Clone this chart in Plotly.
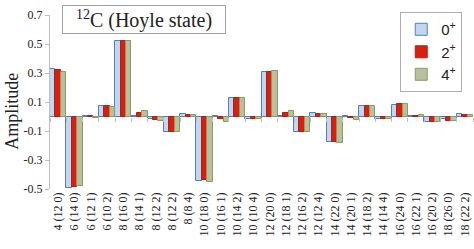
import plotly.graph_objects as go

categories = ["4 (12 0)", "6 (14 0)", "6 (12 1)", "6 (10 2)", "8 (16 0)", "8 (14 1)",
              "8 (12 2)", "8 (12 2)", "8 (8 4)", "10 (18 0)", "10 (16 1)", "10 (14 2)",
              "10 (10 4)", "12 (20 0)", "12 (18 1)", "12 (16 2)", "12 (12 4)", "14 (22 0)",
              "14 (20 1)", "14 (18 2)", "14 (14 4)", "16 (24 0)", "16 (22 1)", "16 (20 2)",
              "18 (26 0)", "18 (22 2)"]
amp_0 = [0.328, -0.49, 0.003, 0.072, 0.52, 0.003, -0.02, -0.11, 0.015, -0.443, 0.003, 0.125, -0.02,
         0.305, 0.003, -0.105, 0.026, -0.174, 0.003, 0.072, -0.02, 0.08, 0.003, -0.035, -0.02, 0.015]
amp_2 = [0.32, -0.488, 0.003, 0.07, 0.52, 0.022, -0.022, -0.11, 0.01, -0.44, -0.02, 0.125, -0.015,
         0.305, 0.022, -0.105, 0.02, -0.175, -0.012, 0.072, -0.015, 0.085, 0.003, -0.035, -0.03, 0.01]
amp_4 = [0.31, -0.48, -0.01, 0.065, 0.52, 0.035, -0.03, -0.105, 0.01, -0.45, -0.04, 0.125, -0.015,
         0.316, 0.038, -0.105, 0.018, -0.185, -0.024, 0.075, -0.02, 0.085, 0.012, -0.04, -0.03, 0.01]
series_names = ["0<sup>+</sup>", "2<sup>+</sup>", "4<sup>+</sup>"]
yticks = [-0.5, -0.3, -0.1, 0.1, 0.3, 0.5, 0.7]
y_range = [-0.5, 0.7]

x = list(range(len(categories)))
fills = ["#c2d7ef", "#d8200e", "#b9c09c"]
lines = ["#4f81bd", "#b02014", "#8c9a6a"]

fig = go.Figure()
for name, vals, fc, lc in zip(series_names, [amp_0, amp_2, amp_4], fills, lines):
    fig.add_trace(go.Bar(x=x, y=vals, name=name,
                         marker=dict(color=fc, line=dict(color=lc, width=1))))

# invisible trace to carry the category-boundary ticks on the zero line
fig.add_trace(go.Scatter(x=[x[0], x[-1]], y=[0, 0], xaxis="x2", mode="none",
                         showlegend=False, hoverinfo="skip"))

zero_pos = (0 - y_range[0]) / (y_range[1] - y_range[0])
boundaries = [i - 0.5 for i in range(len(categories) + 1)]

fig.update_layout(
    width=474, height=249,
    margin=dict(l=50, r=1, t=15, b=60, autoexpand=False),
    paper_bgcolor="white", plot_bgcolor="white",
    barmode="group", bargap=0.0, bargroupgap=0.0,
    showlegend=True,
    legend=dict(x=0.828, y=1.017, xanchor="left", yanchor="top",
                bordercolor="#b0b0b0", borderwidth=1, bgcolor="white",
                font=dict(family="Liberation Sans", size=15, color="#222"),
                itemwidth=30, tracegroupgap=0),
    font=dict(family="Liberation Serif", color="#222"),
    xaxis2=dict(overlaying="x", anchor="free", position=zero_pos, matches="x",
                tickvals=boundaries, showticklabels=False, ticks="outside", ticklen=4,
                tickcolor="#bfbfbf", showline=False, showgrid=False, zeroline=False),
)
fig.update_xaxes(selector=dict(anchor="y"))
fig.layout.xaxis.update(tickvals=x, ticktext=categories, tickangle=-90,
                        range=[-0.5, len(categories) - 0.5],
                        tickfont=dict(family="Liberation Serif", size=12, color="#222"),
                        ticklabeloverflow="allow",
                        showline=False, showgrid=False, ticks="", zeroline=False, automargin=False)
fig.update_yaxes(range=y_range, tickvals=yticks, ticktext=[f"{v:.1f}" for v in yticks],
                 tickfont=dict(family="Liberation Serif", size=12, color="#222"),
                 showline=True, linecolor="#bfbfbf", linewidth=1,
                 ticks="outside", ticklen=4, tickcolor="#bfbfbf",
                 showgrid=False, zeroline=True, zerolinecolor="#bfbfbf", zerolinewidth=1,
                 automargin=False)
fig.add_annotation(xref="paper", yref="paper", x=-0.09, y=0.45, xanchor="center", yanchor="middle",
                   text="Amplitude", textangle=-90, showarrow=False,
                   font=dict(family="Liberation Serif", size=18, color="#222"))
fig.add_annotation(xref="paper", yref="paper", x=0.029, y=1.057, xanchor="left", yanchor="top",
                   text="<sup>12</sup>C (Hoyle state)", showarrow=False, width=160, height=25,
                   font=dict(family="Liberation Serif", size=20, color="#222"),
                   bordercolor="#a0a0a0", borderwidth=1, borderpad=1, bgcolor="white")
fig.write_html("out.html", config={"displayModeBar": False},
               post_script="document.body.style.margin='0px';")
